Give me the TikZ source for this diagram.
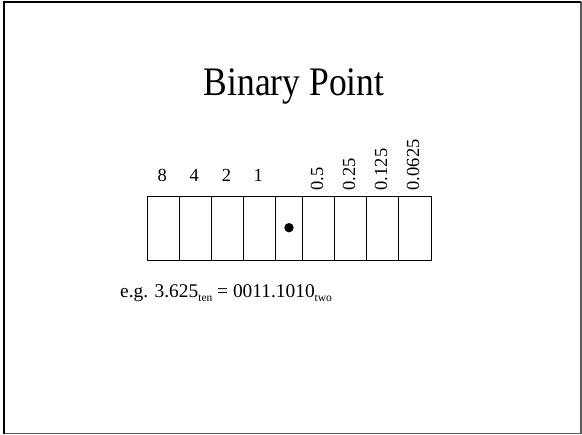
\documentclass[tikz,border=0pt]{standalone}
\usepackage{fontspec}
\setmainfont{Liberation Serif}
\begin{document}
\begin{tikzpicture}[x=1pt,y=-1pt,
  cellbox/.style={draw, line width=0.8pt, minimum height=64.3pt, inner sep=0pt, anchor=north west},
  weight/.style={font=\fontsize{18.5}{20}\selectfont, inner sep=0pt, anchor=base},
  rweight/.style={font=\fontsize{18.5}{20}\selectfont, inner sep=0pt, rotate=90, anchor=base west},
  darkedge/.style={draw=black, line width=2pt},
  lightedge/.style={draw=black!65, line width=1.4pt}]
\useasboundingbox (0,0) rectangle (582,435);
\coordinate (tl) at (4,2.5);
\coordinate (tr) at (580.8,2.5);
\coordinate (bl) at (4,433.6);
\coordinate (br) at (580.8,433.6);
\draw[lightedge] (tr) -- (br) -- (bl);
\draw[darkedge] (bl) -- (tl) -- (tr);
\node[font=\fontsize{35.5}{40}\selectfont, inner sep=0pt, anchor=base] (title) at (294,95.5) {\scalebox{1}[1.14]{Binary Point}};
% cells
\node[cellbox, minimum width=32pt] (c1) at (147.3,195.7) {};
\node[cellbox, minimum width=32pt] (c2) at (179.3,195.7) {};
\node[cellbox, minimum width=32pt] (c3) at (211.3,195.7) {};
\node[cellbox, minimum width=31.7pt] (c4) at (243.3,195.7) {};
\node[cellbox, minimum width=27.3pt] (c5) at (275,195.7) {};
\node[cellbox, minimum width=32pt] (c6) at (302.3,195.7) {};
\node[cellbox, minimum width=32pt] (c7) at (334.3,195.7) {};
\node[cellbox, minimum width=32pt] (c8) at (366.3,195.7) {};
\node[cellbox, minimum width=32.4pt] (c9) at (398.3,195.7) {};
\fill (289,227.7) circle (4.7pt);
% weights
\node[weight] (w1) at (162.3,181.7) {8};
\node[weight] (w2) at (194.3,181.7) {4};
\node[weight] (w3) at (226.5,181.7) {2};
\node[weight] (w4) at (258.3,181.7) {1};
\node[rweight] (w6) at (323,190.5) {0.5};
\node[rweight] (w7) at (355,190.5) {0.25};
\node[rweight] (w8) at (387,190.5) {0.125};
\node[rweight] (w9) at (419.2,190.5) {0.0625};
% example
\node[font=\fontsize{19.4}{22}\selectfont, inner sep=0pt, anchor=base west] (ex) at (120,297.7)
  {e.g. 3.625\raisebox{-4pt}{\fontsize{11.5}{12}\selectfont ten} = 0011.1010\raisebox{-4pt}{\fontsize{11.5}{12}\selectfont two}};
\end{tikzpicture}
\end{document}
